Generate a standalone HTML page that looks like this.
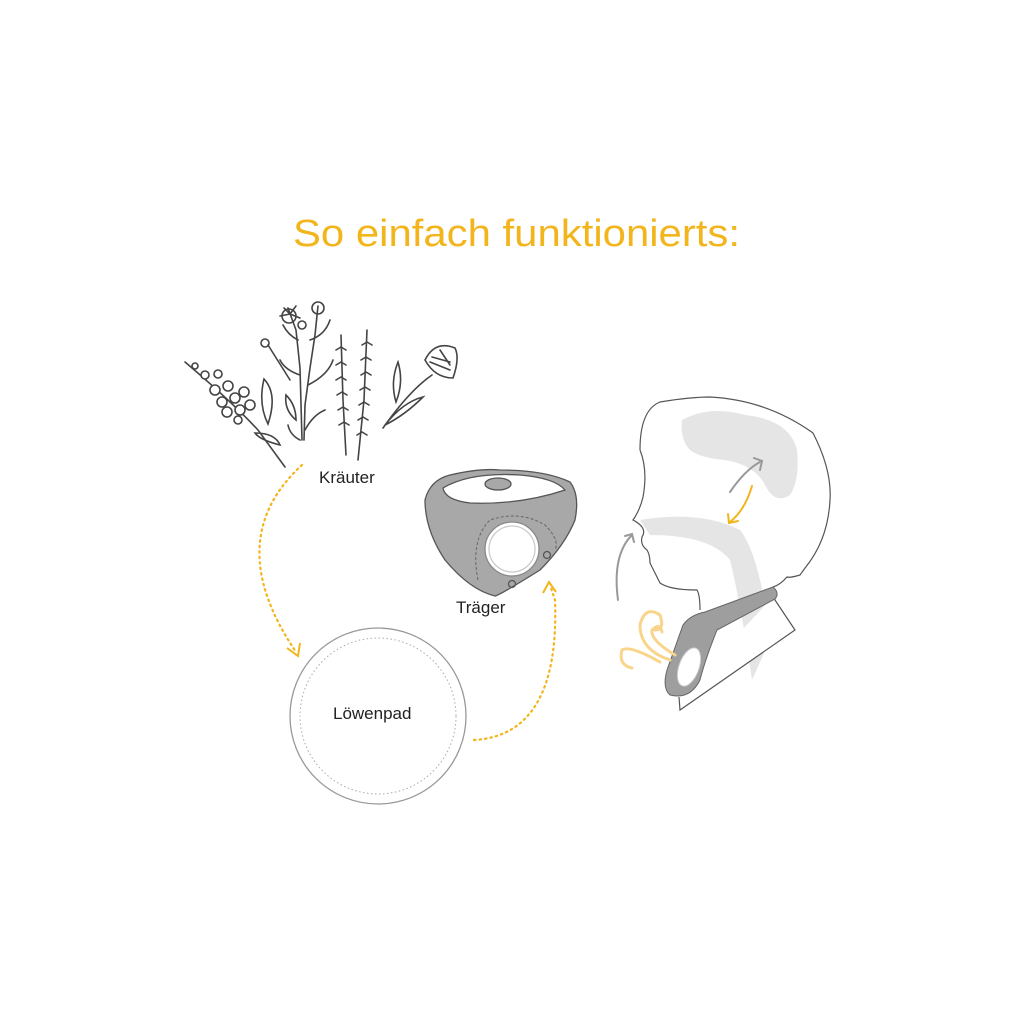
<!DOCTYPE html>
<html><head><meta charset="utf-8"><style>html,body{margin:0;padding:0;background:#fff}svg{display:block}</style></head>
<body>
<svg width="1024" height="1024" viewBox="0 0 1024 1024" xmlns="http://www.w3.org/2000/svg" font-family="Liberation Sans, sans-serif">
<rect width="1024" height="1024" fill="#fff"/>
<text x="293" y="246" font-size="38" fill="#f2b51c" textLength="447" lengthAdjust="spacingAndGlyphs">So einfach funktionierts:</text>

<!-- herbs -->
<g stroke="#444" stroke-width="1.6" fill="none" stroke-linecap="round">
 <path d="M185 362 Q230 400 258 430 L285 467"/>
 <path d="M268 424 q10 -30 -4 -45 q-6 25 4 45z M280 445 q-20 -5 -25 -12 q20 0 25 12z"/>
 <g fill="#fff">
 <circle cx="215" cy="390" r="5"/><circle cx="228" cy="386" r="5"/><circle cx="222" cy="402" r="5"/><circle cx="235" cy="398" r="5"/><circle cx="240" cy="410" r="5"/><circle cx="227" cy="412" r="5"/><circle cx="244" cy="392" r="5"/><circle cx="250" cy="405" r="5"/><circle cx="238" cy="420" r="4"/><circle cx="205" cy="375" r="4"/><circle cx="195" cy="366" r="3"/><circle cx="218" cy="374" r="4"/>
 </g>
 <path d="M288 308 L296 330 L300 368 L302 440 M318 306 L315 335 L310 368 L305 405 L304 440"/>
 <path d="M290 314 l-6 -6 m6 6 l6 -8 m-6 8 l-10 2 m10 -2 l10 4"/>
 <circle cx="289" cy="316" r="7"/><circle cx="318" cy="308" r="6"/><circle cx="302" cy="325" r="4"/><circle cx="265" cy="343" r="4"/>
 <path d="M268 345 L290 380 M298 340 q-10 -5 -15 -15 M330 320 q-5 15 -20 20 M300 375 q-15 -5 -20 -15 M308 385 q20 -10 25 -25 M296 420 q-12 -10 -10 -25 q10 10 10 25z M305 430 q8 -15 20 -20 M300 440 q-10 -5 -12 -15"/>
 <path d="M341 335 L343 400 L346 455 M367 330 L364 400 L358 460"/>
 <path d="M336 350 l5 -3 l5 3 M336 365 l5 -3 l5 3 M336 380 l5 -3 l5 3 M337 395 l5 -3 l5 3 M338 410 l5 -3 l5 3 M339 425 l5 -3 l5 3 M362 345 l5 -3 l5 3 M361 360 l5 -3 l5 3 M361 375 l5 -3 l5 3 M360 390 l5 -3 l5 3 M359 405 l5 -3 l5 3 M358 420 l5 -3 l5 3 M357 435 l5 -3 l5 3"/>
 <path d="M383 428 Q410 390 432 375 M398 362 q-8 20 -2 40 q8 -20 2 -40z M385 425 q20 -10 38 -28 q-20 5 -38 28z"/>
 <path d="M425 360 q10 -20 30 -12 q5 10 -2 30 q-18 0 -28 -18z M432 357 l18 5 M430 362 l20 8 M440 350 l10 15"/>
</g>
<text x="319" y="483" font-size="17" fill="#222">Kräuter</text>

<!-- dotted connectors -->
<g stroke="#f2b51c" stroke-width="2.2" fill="none" stroke-dasharray="1.5 4" stroke-linecap="round">
 <path d="M302 465 Q220 540 296 652"/>
 <path d="M474 740 Q560 735 555 600 L550 585"/>
</g>
<path d="M287 648 L298 656 L300 643" stroke="#f2b51c" stroke-width="2" fill="none"/>
<path d="M543 593 L549 582 L556 592" stroke="#f2b51c" stroke-width="2" fill="none"/>

<!-- pad -->
<circle cx="378" cy="716" r="88" fill="#fff" stroke="#999" stroke-width="1.3"/>
<circle cx="378" cy="716" r="78" fill="none" stroke="#aaa" stroke-width="1" stroke-dasharray="1.5 2.5"/>
<text x="333" y="719" font-size="17" fill="#222">Löwenpad</text>

<!-- bandana -->
<g stroke="#555" stroke-width="1.3">
 <path d="M425 500 Q430 480 450 475 Q480 468 500 470 Q545 470 570 482 Q580 495 575 520 Q565 545 540 570 Q500 595 495 596 Q470 590 445 560 Q425 530 425 500z" fill="#a8a8a8"/>
 <path d="M443 488 Q445 500 470 503 Q520 505 565 490 Q555 478 520 475 Q470 472 443 488z" fill="#fff"/>
 <ellipse cx="498" cy="484" rx="13" ry="6" fill="#a8a8a8"/>
 <path d="M478 580 Q470 540 490 520 Q520 510 545 525 Q560 540 555 550" fill="none" stroke="#666" stroke-dasharray="3 2" stroke-width="1"/>
 <circle cx="512" cy="549" r="27" fill="#fff" stroke="#888"/>
 <circle cx="512" cy="549" r="23" fill="#fff" stroke="#ccc"/>
 <circle cx="547" cy="555" r="3.5" fill="none"/><circle cx="512" cy="584" r="3.5" fill="none"/>
</g>
<text x="456" y="613" font-size="17" fill="#222">Träger</text>

<!-- head -->
<path d="M682 420 Q710 405 745 415 Q790 420 797 450 Q800 480 790 495 Q775 505 765 485 Q755 465 725 460 Q700 458 690 450 Q680 440 682 420z" fill="#e5e5e5"/>
<path d="M640 520 Q700 510 740 530 Q760 555 770 640 L752 680 Q740 600 730 560 Q710 535 650 535z" fill="#e5e5e5"/>
<path d="M640 450 Q640 410 660 402 Q690 397 710 397 Q767 400 813 433 Q832 470 830 500 Q828 540 805 568 L800 575 Q790 578 787 577 Q780 585 773 587 M700 610 Q700 595 697 590 Q670 590 660 583 L650 563 Q650 555 647 550 Q640 545 642 537 Q648 528 633 520 Q640 510 643 497 Q648 470 640 450" fill="none" stroke="#555" stroke-width="1.2"/>
<path d="M773 597 L795 630 L680 710 L679 697" fill="#fff" stroke="#555" stroke-width="1.2"/>
<path d="M773 587 Q780 593 775 599 L717 630 Q705 660 700 680 Q690 700 670 695 Q662 688 667 670 L683 625 Q690 615 705 612z" fill="#9e9e9e" stroke="#666" stroke-width="1"/>
<ellipse cx="689" cy="667" rx="10" ry="20" transform="rotate(20 689 667)" fill="#fff" stroke="#ccc"/>
<g fill="none" stroke-width="2" stroke-linecap="round">
 <path d="M730 492 Q745 470 760 462" stroke="#999"/>
 <path d="M754 458 L762 461 L760 470" stroke="#999"/>
 <path d="M752 486 Q745 510 730 522" stroke="#f2b51c"/>
 <path d="M728 514 L729 523 L738 521" stroke="#f2b51c"/>
 <path d="M618 600 Q612 555 632 535" stroke="#999"/>
 <path d="M625 536 L632 534 L634 542" stroke="#999"/>
 <g stroke="#f8d58a" stroke-width="3">
  <path d="M670 660 Q640 650 640 625 Q645 605 660 615 Q665 630 655 630"/>
  <path d="M675 655 Q650 640 652 630 Q660 622 662 632"/>
  <path d="M660 662 Q630 645 622 650 Q618 665 632 668"/>
 </g>
</g>
</svg>
</body></html>
